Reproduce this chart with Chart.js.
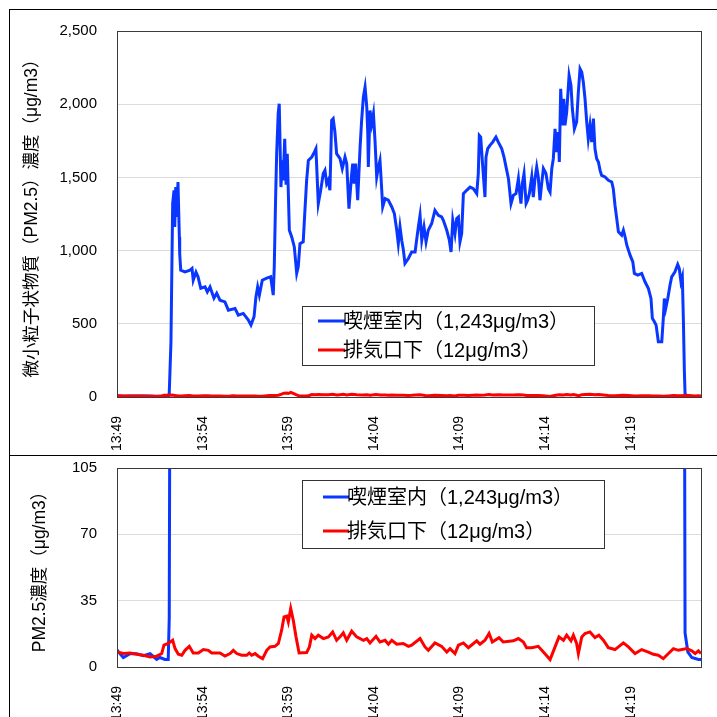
<!DOCTYPE html>
<html>
<head>
<meta charset="utf-8">
<script src="https://cdn.jsdelivr.net/npm/chart.js@4.4.0/dist/chart.umd.min.js"></script>
<style>
html, body { margin: 0; padding: 0; background: #fff; width: 717px; height: 717px; overflow: hidden; }
.panel { position: absolute; left: 9px; width: 720px; border: 1px solid #000; box-sizing: border-box; }
#p1 { top: 9px; height: 447px; }
#p2 { top: 455px; height: 280px; }
canvas { position: absolute; left: 0; top: 0; }
</style>
</head>
<body>
<div class="panel" id="p1"><canvas id="top" width="707" height="445"></canvas></div>
<div class="panel" id="p2"><canvas id="bottom" width="707" height="261"></canvas></div>
<script>
// minutes after 13:49
var timeLabels = ['13:49', '13:54', '13:59', '14:04', '14:09', '14:14', '14:19'];
var seriesNames = ['喫煙室内（1,243μg/m3）', '排気口下（12μg/m3）'];

var smokeTime = [0, 0.18, 0.37, 0.76, 1.15, 1.54, 1.93, 2.32, 2.50, 2.80, 2.99, 3.05, 3.15, 3.21, 3.25, 3.33, 3.37, 3.43, 3.48, 3.56,
  3.64, 3.66, 3.72, 3.97, 4.26, 4.38, 4.45, 4.61, 4.73, 4.89, 5.14, 5.27, 5.43, 5.66, 5.82, 6.01, 6.30, 6.50, 6.89, 7.08,
  7.37, 7.67, 7.82, 8.00, 8.11, 8.21, 8.31, 8.48, 8.74, 8.97, 9.12, 9.18, 9.26, 9.32, 9.41, 9.47, 9.57, 9.65, 9.70, 9.79,
  9.87, 9.94, 10.06, 10.20, 10.35, 10.49, 10.58, 10.68, 10.87, 10.97, 11.07, 11.17, 11.37, 11.52, 11.61, 11.65, 11.75, 11.89, 12.04, 12.14,
  12.24, 12.33, 12.43, 12.53, 12.62, 12.72, 12.82, 13.02, 13.15, 13.31, 13.41, 13.54, 13.70, 13.76, 13.84, 13.93, 14.05, 14.19, 14.28, 14.38,
  14.48, 14.58, 14.64, 14.67, 14.77, 14.87, 14.97, 15.06, 15.16, 15.26, 15.35, 15.41, 15.51, 15.65, 15.84, 16.04, 16.19, 16.33, 16.42, 16.52,
  16.62, 16.71, 16.81, 17.01, 17.20, 17.40, 17.59, 17.69, 17.79, 17.92, 18.04, 18.17, 18.37, 18.56, 18.76, 18.95, 19.05, 19.25, 19.40, 19.50,
  19.60, 19.73, 19.83, 19.93, 20.02, 20.12, 20.22, 20.41, 20.61, 20.80, 21.00, 21.09, 21.15, 21.23, 21.35, 21.48, 21.54, 21.64, 21.77, 21.93,
  22.12, 22.26, 22.46, 22.59, 22.75, 22.85, 23.00, 23.14, 23.29, 23.43, 23.49, 23.58, 23.66, 23.76, 23.88, 23.97, 24.07, 24.21, 24.30, 24.40,
  24.50, 24.59, 24.69, 24.79, 24.89, 25.04, 25.18, 25.28, 25.38, 25.47, 25.57, 25.67, 25.76, 25.82, 25.90, 26.00, 26.08, 26.15, 26.25, 26.39,
  26.50, 26.58, 26.70, 26.83, 26.93, 27.03, 27.13, 27.22, 27.32, 27.42, 27.51, 27.61, 27.71, 27.81, 27.90, 28.00, 28.10, 28.20, 28.29, 28.49,
  28.68, 28.88, 28.97, 29.07, 29.17, 29.27, 29.46, 29.56, 29.66, 29.76, 29.95, 30.11, 30.20, 30.40, 30.63, 30.82, 31.02, 31.17, 31.25, 31.37,
  31.47, 31.60, 31.80, 31.89, 31.95, 32.03, 32.15, 32.28, 32.38, 32.57, 32.73, 32.82, 32.92, 33.00, 33.06, 33.12, 33.16, 33.32, 33.55, 33.94, 34.09];
var smokeValue = [9, 7, 5, 7, 7, 6, 7, 4, 5, 4, 4, 26, 377, 948, 1323, 1412, 1162, 1434, 1230, 1469,
  1093, 980, 866, 855, 866, 878, 798, 853, 821, 743, 752, 718, 752, 675, 709, 661, 650, 593, 605, 559,
  571, 525, 491, 548, 684, 752, 696, 798, 812, 821, 696, 889, 1366, 1662, 1935, 2003, 1434, 1616, 1480, 1764,
  1450, 1662, 1139, 1093, 1025, 844, 889, 1048, 1060, 1275, 1480, 1616, 1639, 1673, 1696, 1594, 1321, 1412, 1526, 1548,
  1457, 1480, 1412, 1889, 1901, 1810, 1662, 1628, 1560, 1639, 1594, 1287, 1526, 1594, 1457, 1594, 1344, 1707, 1889, 2048,
  2117, 1980, 1798, 1571, 1957, 1866, 1935, 1753, 1503, 1571, 1616, 1503, 1298, 1355, 1344, 1298, 1253, 1139, 1048, 1162,
  1071, 1010, 912, 946, 991, 991, 1162, 1241, 1071, 1162, 1059, 1139, 1185, 1275, 1241, 1230, 1207, 1139, 1071, 991,
  1207, 1116, 1219, 1230, 1059, 1116, 1389, 1412, 1434, 1423, 1389, 1526, 1787, 1776, 1571, 1366, 1639, 1696, 1719, 1741,
  1776, 1741, 1696, 1639, 1548, 1491, 1321, 1378, 1389, 1491, 1412, 1321, 1457, 1526, 1321, 1344, 1389, 1503, 1366, 1491,
  1571, 1503, 1344, 1457, 1560, 1526, 1423, 1400, 1560, 1628, 1832, 1673, 1810, 1605, 2105, 1855, 2037, 1855, 1946, 2196,
  2128, 1969, 1832, 1878, 2082, 2242, 2219, 2151, 2037, 1878, 1764, 1855, 1741, 1901, 1696, 1628, 1605, 1548, 1514, 1503,
  1480, 1469, 1423, 1310, 1219, 1128, 1105, 1139, 1093, 1037, 969, 923, 844, 832, 844, 787, 741, 673, 537, 514,
  491, 377, 377, 537, 673, 605, 673, 764, 821, 855, 905, 878, 787, 821, 537, 173, 18, 8, 5, 4, 4];

var exhaustTime = [0, 0.37, 0.76, 1.15, 1.54, 1.93, 2.32, 2.61, 2.74, 2.99, 3.25, 3.39, 3.58, 3.78, 3.97, 4.22, 4.45, 4.75, 5.04, 5.33,
  5.53, 6.01, 6.30, 6.60, 6.79, 6.99, 7.28, 7.57, 7.72, 7.86, 8.06, 8.25, 8.50, 8.74, 8.93, 9.22, 9.42, 9.61, 9.75, 9.91,
  10.00, 10.14, 10.29, 10.45, 10.63, 11.07, 11.23, 11.37, 11.56, 11.75, 12.05, 12.34, 12.59, 12.82, 13.02, 13.21, 13.41, 13.70, 13.99, 14.38,
  14.58, 14.77, 15.12, 15.35, 15.65, 15.84, 16.04, 16.33, 16.71, 17.01, 17.20, 17.69, 17.98, 18.17, 18.56, 18.95, 19.25, 19.44, 19.73, 19.93,
  20.22, 20.51, 21.00, 21.19, 21.48, 21.72, 21.91, 22.30, 22.55, 23.14, 23.43, 23.72, 23.91, 24.21, 24.59, 24.89, 25.28, 25.53, 25.80, 26.06,
  26.25, 26.50, 26.64, 26.83, 26.93, 27.13, 27.32, 27.61, 27.90, 28.13, 28.39, 28.68, 29.07, 29.56, 29.85, 30.24, 30.63, 31.02, 31.31, 31.60,
  31.89, 32.19, 32.48, 32.77, 33.26, 33.55, 33.75, 33.94, 34.09];
var exhaustValue = [8, 7.1, 7.4, 6.7, 6.2, 5.3, 5.7, 7.1, 11.5, 12.4, 14.1, 9.7, 6.7, 6.2, 8.8, 10.9, 7.4, 7.4, 9.2, 8.8,
  7.4, 7.4, 5.8, 7.1, 8.8, 7.1, 6.2, 6.2, 7.4, 6.2, 7.1, 5.7, 4.4, 8.8, 10.6, 10.9, 12.4, 19.4, 26.4, 26.8,
  23.8, 30.9, 24.7, 15.9, 7.4, 7.6, 10.6, 16.8, 15.0, 16.8, 15.0, 15.9, 18.5, 14.1, 15.9, 18.0, 14.1, 18.9, 15.9, 14.1,
  15.0, 12.7, 16.2, 13.2, 14.1, 12.0, 14.1, 12.0, 12.4, 10.9, 11.5, 15.0, 10.6, 8.8, 12.7, 10.9, 7.9, 9.7, 7.1, 11.5,
  12.7, 10.2, 13.8, 12.0, 14.1, 17.7, 13.2, 15.5, 13.2, 13.8, 15.0, 13.2, 10.2, 10.2, 10.9, 7.9, 3.9, 9.7, 15.9, 14.1,
  16.8, 13.8, 16.8, 12.4, 7.1, 15.9, 17.7, 18.5, 15.5, 16.8, 14.1, 10.2, 9.2, 12.7, 10.6, 7.1, 9.2, 7.9, 6.7, 6.2,
  4.4, 7.1, 9.7, 8.8, 9.7, 8.5, 7.1, 8.5, 7.1];

function pairs(xs, ys) {
  return xs.map(function (x, i) { return { x: x, y: ys[i] }; });
}

var tickFont = { family: '"Liberation Sans", Arial, sans-serif', size: 15 };
var titleFont = { family: '"Liberation Sans", "Noto Sans CJK JP", sans-serif', size: 17.5 };

// plot frame + legend box drawn inside the plot area
var boxLegend = {
  id: 'boxLegend',
  afterDatasetsDraw: function (chart, args, opts) {
    var ctx = chart.ctx, a = chart.chartArea;
    ctx.save();
    ctx.strokeStyle = '#3a3a3a';
    ctx.lineWidth = 1;
    ctx.strokeRect(Math.round(a.left) + 0.5, Math.round(a.top) + 0.5, Math.round(a.right - a.left), Math.round(a.bottom - a.top));
    ctx.fillStyle = '#fff';
    ctx.fillRect(opts.x, opts.y, opts.w, opts.h);
    ctx.strokeStyle = '#333';
    ctx.strokeRect(opts.x + 0.5, opts.y + 0.5, opts.w, opts.h);
    ctx.font = '20px "Liberation Sans", "Noto Sans CJK JP", sans-serif';
    ctx.textBaseline = 'middle';
    chart.data.datasets.forEach(function (ds, i) {
      var y = opts.rows[i];
      ctx.strokeStyle = ds.borderColor;
      ctx.lineWidth = 3;
      ctx.beginPath();
      ctx.moveTo(opts.lineX, y);
      ctx.lineTo(opts.textX + 2, y);
      ctx.stroke();
      ctx.fillStyle = '#000';
      ctx.fillText(ds.label, opts.textX, y + 1);
    });
    ctx.restore();
  }
};

function makeChart(id, yMax, yStep, yTitle, padTop, xHeight, titlePad, legendBox) {
  var ctx = document.getElementById(id).getContext('2d');
  return new Chart(ctx, {
    type: 'line',
    data: {
      datasets: [
        { label: seriesNames[0], data: pairs(smokeTime, smokeValue), borderColor: '#0a37ff', borderWidth: 3, pointRadius: 0, tension: 0, order: 1 },
        { label: seriesNames[1], data: pairs(exhaustTime, exhaustValue), borderColor: '#ff0000', borderWidth: 3, pointRadius: 0, tension: 0, order: 0 }
      ]
    },
    options: {
      responsive: false,
      animation: false,
      devicePixelRatio: 1,
      layout: { padding: { top: padTop, right: 16, left: 0, bottom: 0 } },
      plugins: {
        legend: { display: false },
        tooltip: { enabled: false },
        boxLegend: legendBox
      },
      scales: {
        x: {
          type: 'linear',
          min: 0,
          max: 34.09,
          afterFit: function (s) { s.height = xHeight; },
          afterBuildTicks: function (s) { s.ticks = s.ticks.filter(function (t) { return t.value % 5 === 0; }); },
          ticks: {
            stepSize: 5,
            minRotation: 90,
            maxRotation: 90,
            padding: 11,
            color: '#000',
            font: { family: tickFont.family, size: 14 },
            callback: function (v) { return timeLabels[Math.round(v / 5)]; }
          },
          grid: { display: false },
          border: { display: false }
        },
        y: {
          min: 0,
          max: yMax,
          afterFit: function (s) { s.width = 107; },
          ticks: {
            stepSize: yStep,
            padding: 0,
            color: '#000',
            font: tickFont,
            callback: function (v) { return v.toLocaleString('en-US'); }
          },
          // invisible tick marks keep the labels 20px off the plot
          grid: { color: '#dcdcdc', drawTicks: true, tickLength: 20, tickColor: 'rgba(0,0,0,0)' },
          border: { display: false },
          title: { display: true, text: yTitle, color: '#000', font: titleFont, padding: { top: titlePad, bottom: 0 } }
        }
      }
    },
    plugins: [boxLegend]
  });
}

makeChart('top', 2500, 500, '微小粒子状物質（PM2.5）濃度（μg/m3）', 21, 58, 11.5,
  { x: 292, y: 296, w: 292, h: 59, rows: [311, 340], lineX: 308, textX: 333 });
makeChart('bottom', 105, 35, 'PM2.5濃度（μg/m3）', 12, 50, 19.5,
  { x: 292, y: 24, w: 302, h: 68, rows: [41, 75], lineX: 313, textX: 337 });
</script>
</body>
</html>
